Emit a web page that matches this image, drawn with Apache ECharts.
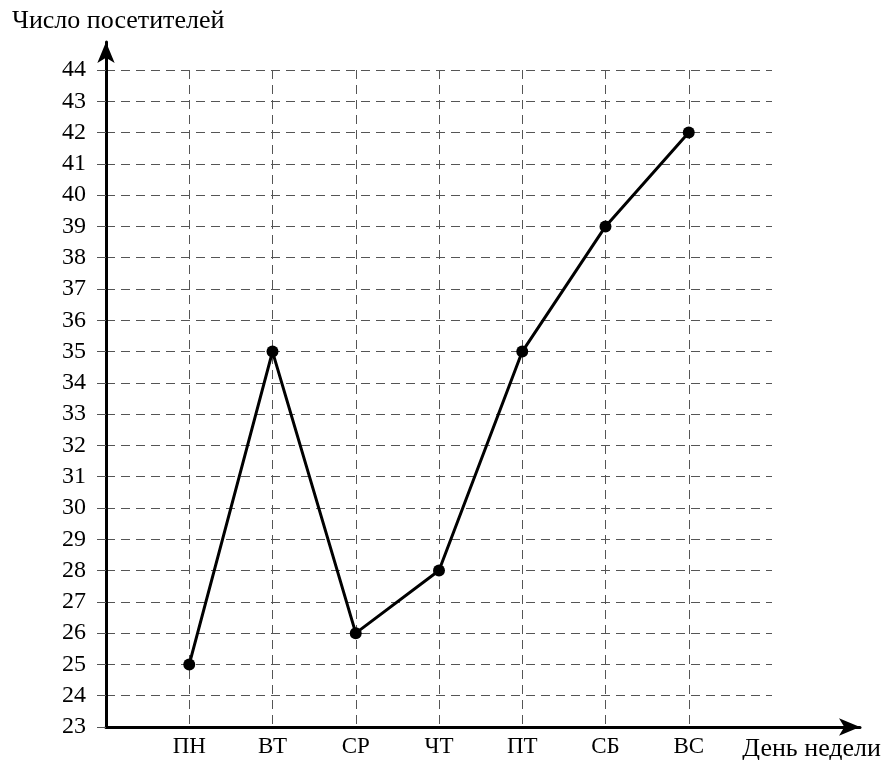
<!DOCTYPE html>
<html>
<head>
<meta charset="utf-8">
<script src="https://cdn.jsdelivr.net/npm/echarts@6/dist/echarts.min.js"></script>
<style>html,body{margin:0;padding:0;background:#fff}#c{width:887px;height:760px}</style>
</head>
<body>
<div id="c"></div>
<script>
const days = ['ПН', 'ВТ', 'СР', 'ЧТ', 'ПТ', 'СБ', 'ВС'];
const visitors = [25, 35, 26, 28, 35, 39, 42];
const yMin = 23, yMax = 44;
const yTitle = 'Число посетителей';
const xTitle = 'День недели';

const font = 'Liberation Serif';
const gridLine = { color: '#555', width: 1, type: [9, 6] };

const chart = echarts.init(document.getElementById('c'), null, { renderer: 'canvas' });
chart.setOption({
  backgroundColor: '#fff',
  animation: false,
  title: [
    { text: yTitle, left: 7, top: 3, textStyle: { fontFamily: font, fontSize: 26, fontWeight: 'normal', color: '#000' } },
    { text: xTitle, right: 1, top: 731, textStyle: { fontFamily: font, fontSize: 26, fontWeight: 'normal', color: '#000' } }
  ],
  grid: [
    { left: 106, top: 70, width: 666, height: 657 },
    { left: 106, top: 42, width: 754, height: 685 }
  ],
  xAxis: [
    {
      gridIndex: 0, type: 'value', min: 0, max: 8, interval: 1,
      axisLine: { show: false }, axisTick: { show: false },
      axisLabel: {
        margin: 8, fontFamily: font, fontSize: 23, color: '#000',
        formatter: v => days[v - 1] || ''
      },
      splitLine: { show: true, showMinLine: false, showMaxLine: false, lineStyle: gridLine }
    },
    {
      gridIndex: 1, type: 'value', min: 0, max: 1,
      axisLine: { show: true, symbol: ['none', 'arrow'], symbolSize: [13, 21], lineStyle: { color: '#000', width: 3 } },
      axisTick: { show: false }, axisLabel: { show: false }, splitLine: { show: false }
    }
  ],
  yAxis: [
    {
      gridIndex: 0, type: 'value', min: yMin, max: yMax, interval: 1,
      axisLine: { show: false },
      axisTick: { show: true, length: 9, lineStyle: { color: '#555', width: 1 } },
      axisLabel: { margin: 20, fontFamily: font, fontSize: 24, color: '#000' },
      splitLine: { show: true, showMinLine: false, lineStyle: gridLine }
    },
    {
      gridIndex: 1, type: 'value', min: 0, max: 1,
      axisLine: { show: true, onZero: false, symbol: ['none', 'arrow'], symbolSize: [13, 21], lineStyle: { color: '#000', width: 3 } },
      axisTick: { show: false }, axisLabel: { show: false }, splitLine: { show: false }
    }
  ],
  series: [{
    type: 'line',
    xAxisIndex: 0, yAxisIndex: 0,
    data: visitors.map((v, i) => [i + 1, v]),
    symbol: 'circle', symbolSize: 12,
    itemStyle: { color: '#000' },
    lineStyle: { color: '#000', width: 3 },
    z: 5
  }]
});
</script>
</body>
</html>
